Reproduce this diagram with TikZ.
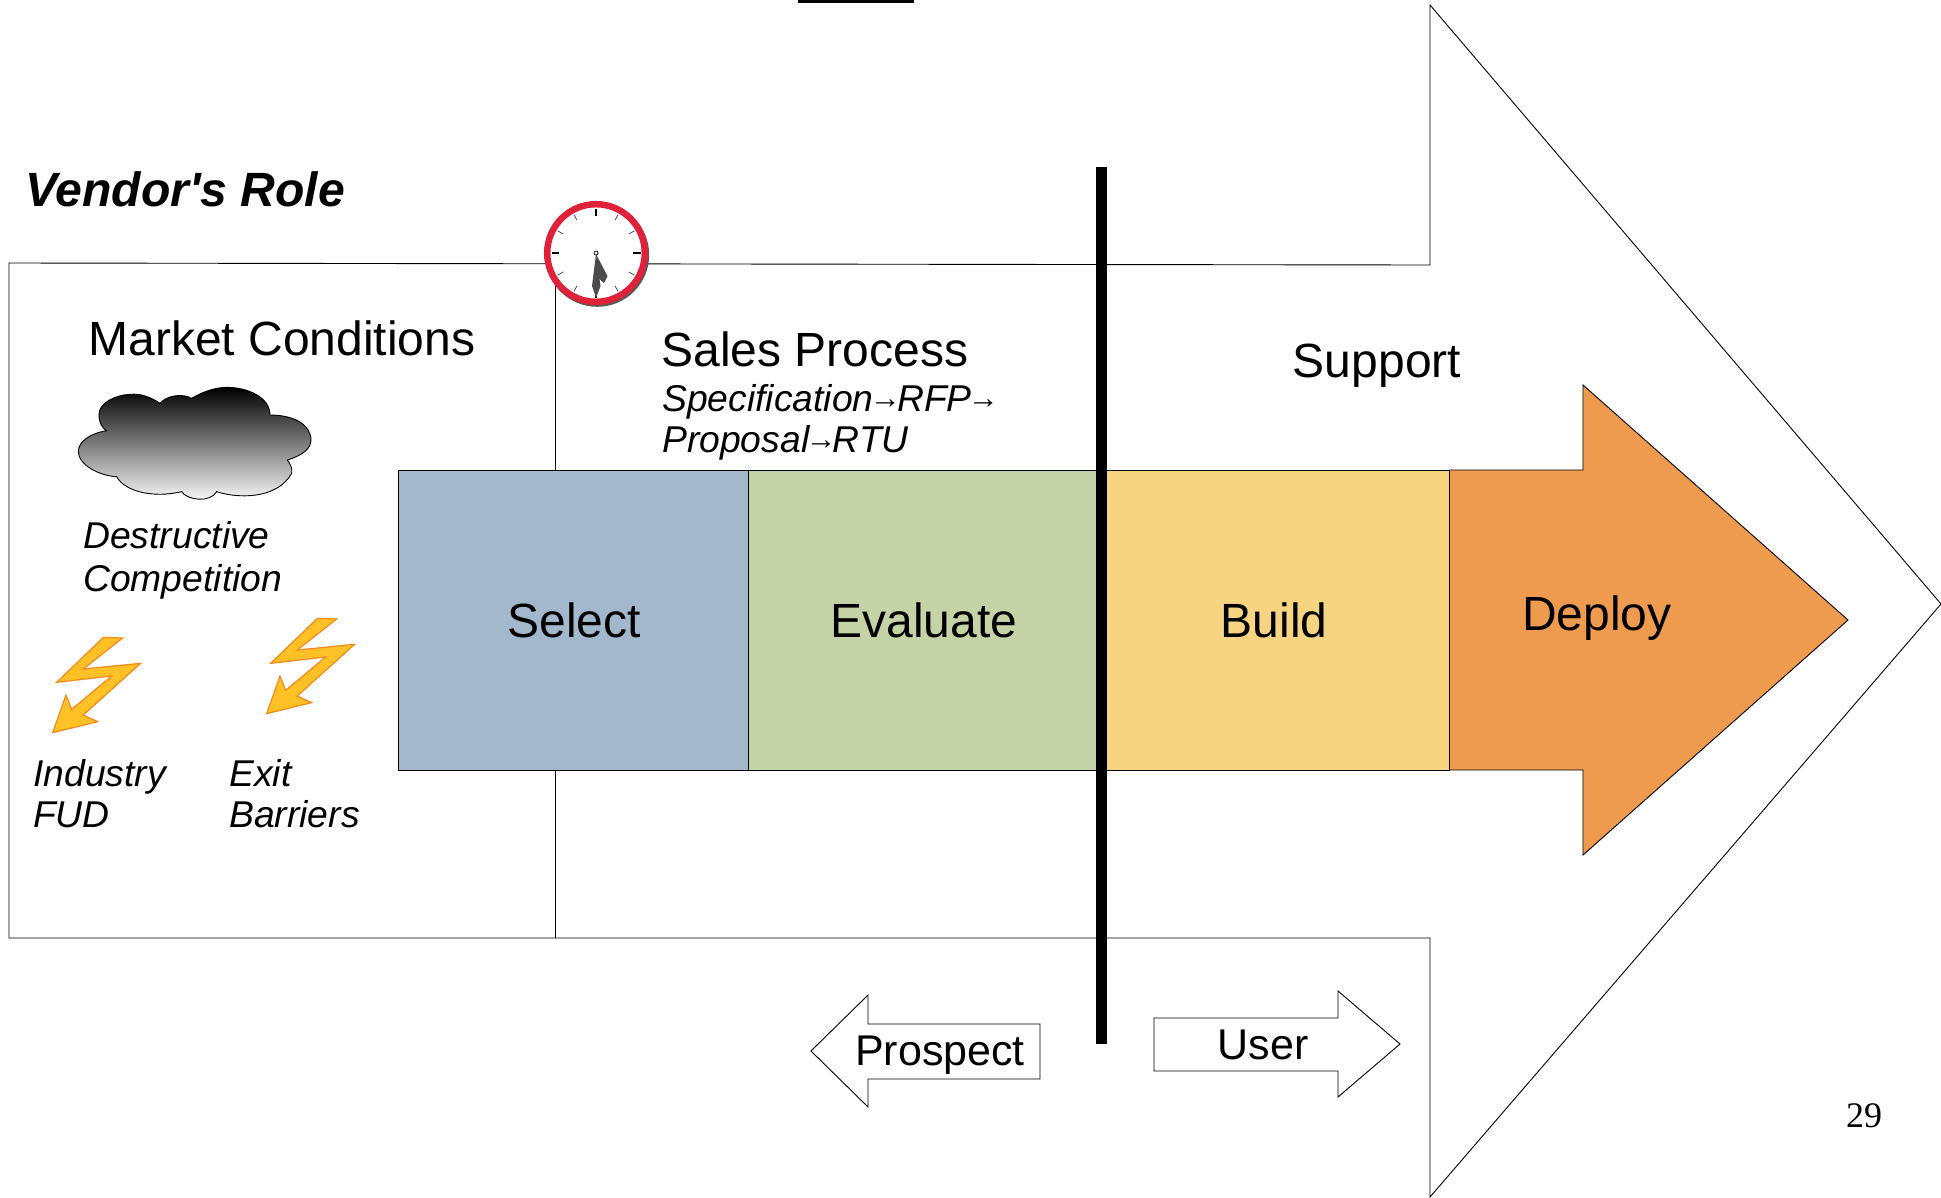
\documentclass[tikz,border=0pt]{standalone}
\usepackage{fontspec}
\setmainfont{Liberation Sans}
\newfontfamily\pagefont{Liberation Serif}
\newfontfamily\rolefont{Liberation Sans}[Ligatures=NoCommon]
\definecolor{selectblue}{HTML}{A4B8CD}
\definecolor{evalgreen}{HTML}{C5D4A6}
\definecolor{buildyellow}{HTML}{F7D482}
\definecolor{deployorange}{HTML}{EE9B4F}
\definecolor{boltyellow}{HTML}{FFC125}
\definecolor{boltedge}{HTML}{F58A1F}
\definecolor{clockred}{HTML}{E0213A}
\newcommand{\smallarr}{\kern-3.8pt\raisebox{2.5pt}{\fontsize{31}{31}\selectfont\upshape→}\kern-3.8pt}
\tikzset{
	head/.style={anchor=base, inner sep=0pt, font=\fontsize{48}{48}\selectfont},
	sub/.style={anchor=base west, inner sep=0pt, font=\fontsize{37.3}{37.3}\selectfont\itshape},
	outline/.style={draw=black, line width=0.9pt},
	bolt/.style={fill=boltyellow, draw=boltedge, line width=1.2pt}
}
\begin{document}
\begin{tikzpicture}[x=1pt, y=-1pt, line join = miter]
	\useasboundingbox (0,0) rectangle (1941,1197);
	\draw[outline] (9,263)--(1430,265)--(1430,5)--(1941,604)--(1430,1197)--(1430,938)--(9,938)--cycle;
	\draw[outline] (555.5,264)--(555.5,470) (555.5,770)--(555.5,938);
	\fill (798,0) rectangle (914,3);
	% process blocks
	\draw[outline, fill=selectblue] (398.5,470) rectangle (748.5,770);
	\draw[outline, fill=evalgreen] (748.5,470) rectangle (1100,770);
	\draw[outline, fill=buildyellow] (1100,470) rectangle (1449.5,770);
	\draw[outline, fill=deployorange] (1449.5,470)--(1583,470)--(1583,385)--(1848,620)--(1583,855)--(1583,770)--(1449.5,770)--cycle;
	\fill (1096,167) rectangle (1107,1044);
	% small arrows
	\draw[outline] (811,1051)--(868,995)--(868,1024)--(1040,1024)--(1040,1079)--(868,1079)--(868,1107)--cycle;
	\draw[outline] (1154,1018)--(1338,1018)--(1338,991)--(1400,1044)--(1338,1097)--(1338,1071)--(1154,1071)--cycle;
	% cloud
	\begin{scope}[shift={(50,370)}, scale=1/3]
		\draw[line width=0.9pt, top color=black, bottom color=white, shading angle=0]
			(170,182) .. controls (120,190) and (85,215) .. (85,245)
			.. controls (85,285) and (150,318) .. (200,320)
			.. controls (225,365) and (310,385) .. (395,365)
			.. controls (410,390) and (480,400) .. (500,365)
			.. controls (560,385) and (680,390) .. (725,310)
			.. controls (728,295) and (720,280) .. (712,270)
			.. controls (760,255) and (785,235) .. (783,205)
			.. controls (775,150) and (710,135) .. (660,135)
			.. controls (660,80) and (590,52) .. (530,52)
			.. controls (490,52) and (450,70) .. (425,85)
			.. controls (400,70) and (350,75) .. (330,100)
			.. controls (300,80) and (270,70) .. (240,73)
			.. controls (195,75) and (145,100) .. (147,135)
			.. controls (147,160) and (160,178) .. (170,182) -- cycle;
	\end{scope}
	% bolts
	\foreach \dx/\dy [count=\i] in {50/370, 264/351}{
		\begin{scope}[shift={(\dx,\dy)}, scale=1/3]
			\draw[bolt] (160,802)--(218,804)--(100,897)--(272,880)--(100,1035)--(143,1055)--(8,1088)--(48,975)--(65,1018)--(185,918)--(20,937)--cycle;
		\end{scope}
	}
	% clock
	\begin{scope}[shift={(596,253)}]
		\fill[black!65] (1.2,1.8) circle (52);
		\draw[clockred, fill=white, line width=6.5pt] (0,0) circle (48.8);
		\foreach \a in {0,30,...,330}{
			\draw[black!70, line width=0.8pt] (\a:38) -- (\a:44);
		}
		\foreach \a in {0,90,180,270}{
			\draw[black, line width=1.2pt] (\a:37) -- (\a:44.5);
		}
		\fill[black!70] (0,1) -- (11.5,23) -- (8,30) -- (2,25) -- cycle;
		\fill[black!70] (0,1) -- (4.5,33) -- (0,45) -- (-4,33) -- cycle;
		\draw[black, fill=white, line width=0.7pt] (0,0) circle (2);
	\end{scope}
	% labels
	\node[anchor=base west, inner sep=0pt, font=\rolefont\fontsize{48.1}{48.1}\selectfont\bfseries\itshape] (role) at (25,206) {Vendor's Role};
	\node[head] (market) at (282,355) {Market Conditions};
	\node[head] (sales) at (815,366) {Sales Process};
	\node[head] (support) at (1377,377) {Support};
	\node[sub] (spec) at (662,411) {Specification\smallarr RFP\smallarr};
	\node[sub] (prop) at (662,452) {Proposal\smallarr RTU};
	\node[sub] (dest) at (83,548) {Destructive};
	\node[sub] (comp) at (83,591) {Competition};
	\node[sub] (ind) at (33,786) {Industry};
	\node[sub] (fud) at (33,827) {FUD};
	\node[sub] (exit) at (229,786) {Exit};
	\node[sub] (barr) at (229,827) {Barriers};
	\node[head] (sel) at (574,637) {Select};
	\node[head] (eval) at (924,637) {Evaluate};
	\node[head] (bld) at (1274,637) {Build};
	\node[head] (dep) at (1597,630) {Deploy};
	\node[head, font=\fontsize{43}{43}\selectfont] (pros) at (940,1065) {Prospect};
	\node[head, font=\fontsize{43}{43}\selectfont] (usr) at (1263,1059) {User};
	\node[anchor=base, inner sep=0pt, font=\pagefont\fontsize{36}{36}\selectfont] (num) at (1864,1127) {29};
\end{tikzpicture}
\end{document}
